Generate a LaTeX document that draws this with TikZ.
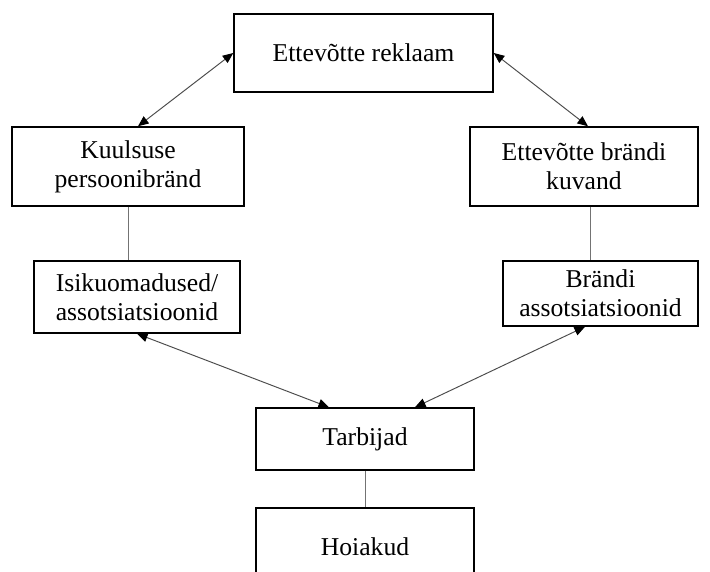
\documentclass[tikz,border=0pt]{standalone}
\usepackage{fontspec}
\setmainfont{Liberation Serif}
\usetikzlibrary{arrows.meta}

\begin{document}
\begin{tikzpicture}[
    box/.style={draw, line width=0.85pt, align=center, inner sep=0pt,
      font=\fontsize{14.6}{16.5}\selectfont},
    link/.style={draw=black!55, line width=0.55pt},
    both/.style={draw=black!70, line width=0.55pt,
      {Triangle[length=6pt,width=5pt,color=black]}-{Triangle[length=6pt,width=5pt,color=black]}}
  ]
  \useasboundingbox (0,0) rectangle (14.2,-11.44);

  \node [box, minimum width=5.18cm, minimum height=1.56cm] (rekl) at (7.27,-1.06) {Ettevõtte reklaam};

  \node [box, minimum width=4.64cm, minimum height=1.58cm] (celeb) at (2.56,-3.33) {Kuulsuse\\persoonibränd};
  \node [box, minimum width=4.56cm, minimum height=1.58cm] (brand) at (11.68,-3.33) {Ettevõtte brändi\\kuvand};

  \node [box, minimum width=4.12cm, minimum height=1.44cm] (isik) at (2.74,-5.94) {Isikuomadused/\\assotsiatsioonid};
  \node [box, minimum width=3.9cm, minimum height=1.3cm] (brassoc) at (12.01,-5.87) {Brändi\\assotsiatsioonid};

  \node [box, minimum width=4.36cm, minimum height=1.24cm] (tarb) at (7.3,-8.78) {Tarbijad};
  \node [box, minimum width=4.36cm, minimum height=1.56cm] (hoiak) at (7.3,-10.94) {Hoiakud};

  % arrows between the levels
  \draw [both] (rekl.west) -- ([xshift=0.2cm]celeb.north);
  \draw [both] (rekl.east) -- ([xshift=0.08cm]brand.north);
  \draw [both] (isik.south) -- ([xshift=-0.72cm]tarb.north);
  \draw [both] ([xshift=-0.31cm]brassoc.south) -- ([xshift=1cm]tarb.north);

  % plain lines
  \draw [link] (celeb.south) -- (celeb.south |- isik.north);
  \draw [link] ([xshift=0.12cm]brand.south) -- ([xshift=0.12cm]brand.south |- brassoc.north);
  \draw [link] (tarb.south) -- (hoiak.north);
\end{tikzpicture}
\end{document}
